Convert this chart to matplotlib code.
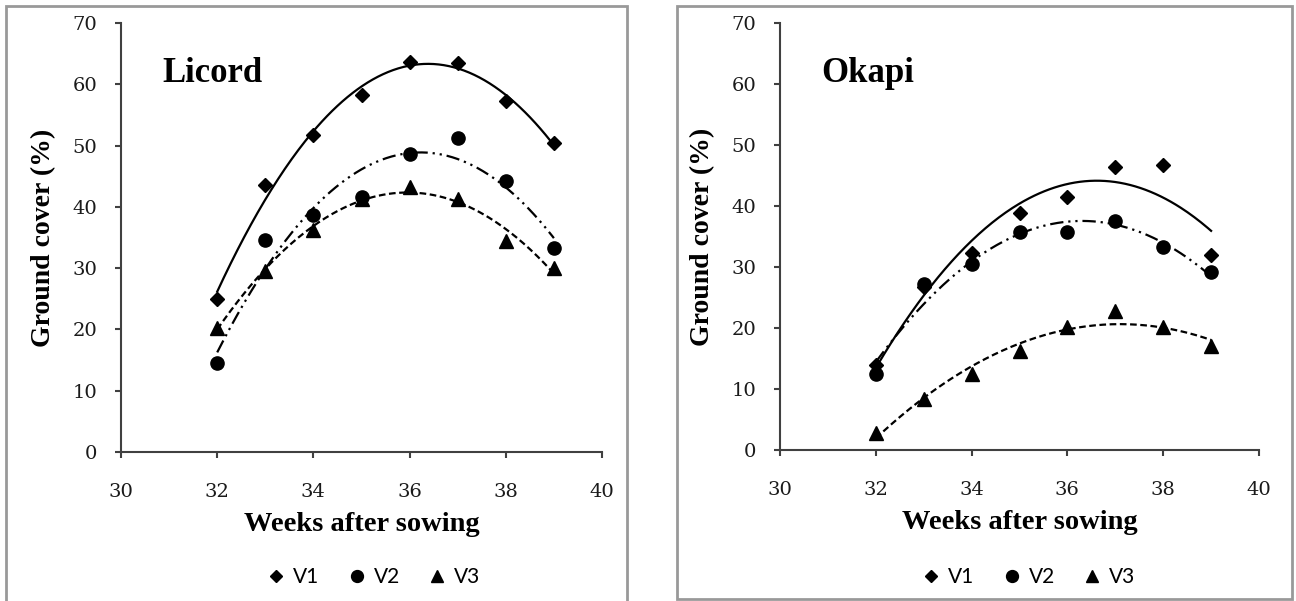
import numpy as np
import matplotlib
matplotlib.use("Agg")
import matplotlib.pyplot as plt
from matplotlib.patches import Rectangle
from matplotlib.lines import Line2D

weeks = [32, 33, 34, 35, 36, 37, 38, 39]

licord_v1 = [25.0, 43.6, 51.8, 58.2, 63.6, 63.4, 57.2, 50.5]
licord_v2 = [14.6, 34.6, 38.6, 41.6, 48.6, 51.2, 44.2, 33.3]
licord_v3 = [20.3, 29.5, 36.3, 41.3, 43.3, 41.3, 34.4, 30.0]

okapi_v1 = [14.0, 26.8, 32.3, 38.8, 41.4, 46.4, 46.7, 31.9]
okapi_v2 = [12.4, 27.2, 30.5, 35.7, 35.7, 37.6, 33.2, 29.2]
okapi_v3 = [2.8, 8.4, 12.4, 16.3, 20.2, 22.8, 20.2, 17.0]

series_labels = ["V1", "V2", "V3"]
panel_titles = ["Licord", "Okapi"]
xlabel = "Weeks after sowing"
ylabel = "Ground cover (%)"
xticks = [30, 32, 34, 36, 38, 40]
yticks = [0, 10, 20, 30, 40, 50, 60, 70]

W, H = 1296, 601
fig = plt.figure(figsize=(W / 100, H / 100), dpi=100)

serif = ["Liberation Serif", "DejaVu Serif"]
tickfont = ["DejaVu Serif"]
sans = ["Lato", "DejaVu Sans"]

# panel frames
fig.patches.append(Rectangle((6 / W, 1 - 640 / H), (627 - 6) / W, (640 - 6) / H,
                             transform=fig.transFigure, fill=False,
                             edgecolor="#999999", linewidth=2, zorder=0))
fig.patches.append(Rectangle((677 / W, 1 - 599 / H), (1292 - 677) / W, (599 - 6) / H,
                             transform=fig.transFigure, fill=False,
                             edgecolor="#999999", linewidth=2, zorder=0))

markers = ["D", "o", "^"]
msizes = [7, 9.5, 9.5]
dash_styles = [None, (0, (6, 2.2, 1, 2.2, 1, 2.2)), (0, (3, 1.6))]

axes_pos = [
    (121 / W, 1 - 452 / H, (602 - 121) / W, (452 - 23) / H),
    (780 / W, 1 - 450 / H, (1259 - 780) / W, (450 - 23) / H),
]
legend_centers = [372 / W, 1027 / W]

data = [
    [licord_v1, licord_v2, licord_v3],
    [okapi_v1, okapi_v2, okapi_v3],
]

axis_color = "#404040"

for p in range(2):
    ax = fig.add_axes(axes_pos[p])
    xs = np.array(weeks, dtype=float)
    xfine = np.linspace(xs.min(), xs.max(), 200)
    for i, ys in enumerate(data[p]):
        ax.plot(weeks, ys, linestyle="none", marker=markers[i], markersize=msizes[i],
                color="black", zorder=3)
        coef = np.polyfit(xs, np.array(ys), 2)
        ls = "-" if dash_styles[i] is None else dash_styles[i]
        ax.plot(xfine, np.polyval(coef, xfine), color="black", linewidth=1.6,
                linestyle=ls, zorder=2)
    ax.set_xlim(30, 40)
    ax.set_ylim(0, 70)
    ax.set_xticks(xticks)
    ax.set_yticks(yticks)
    for s in ["top", "right"]:
        ax.spines[s].set_visible(False)
    for s in ["left", "bottom"]:
        ax.spines[s].set_color(axis_color)
        ax.spines[s].set_linewidth(1.5)
    ax.tick_params(axis="both", direction="out", length=4.5, width=1.5, color=axis_color,
                   labelsize=14, labelcolor="#1a1a1a", labelfontfamily=tickfont)
    ax.tick_params(axis="x", pad=18)
    ax.tick_params(axis="y", pad=12.5)
    ax.set_xlabel(xlabel, fontfamily=serif, fontweight="bold", fontsize=20.5, labelpad=8)
    ax.set_ylabel(ylabel, fontfamily=serif, fontweight="bold", fontsize=20, labelpad=12)
    ax.text(30.86, 61.8, panel_titles[p], fontfamily=serif, fontweight="bold",
            fontsize=25, va="center", ha="left")

    handles = [Line2D([], [], linestyle="none", marker=markers[i], markersize=msizes[i] * 0.9,
                      color="black") for i in range(3)]
    fig.legend(handles, series_labels, loc="center", ncol=3, frameon=False,
               bbox_to_anchor=(legend_centers[p], 1 - 577 / H),
               prop={"family": sans, "size": 15}, handletextpad=0.2,
               columnspacing=1.2, handlelength=1.2)

fig.savefig("out.png", dpi=100)
